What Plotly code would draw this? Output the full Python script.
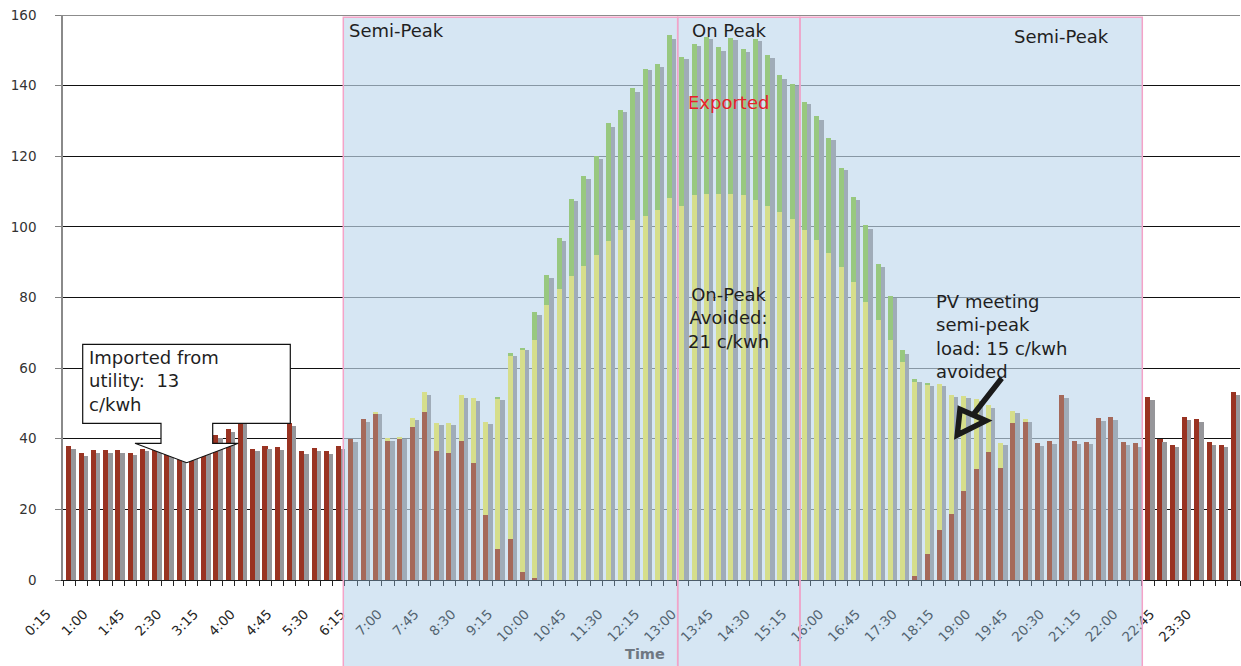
import plotly.graph_objects as go

# ---------------- data ----------------
tick_labels = ["0:15", "1:00", "1:45", "2:30", "3:15", "4:00", "4:45", "5:30",
               "6:15", "7:00", "7:45", "8:30", "9:15", "10:00", "10:45", "11:30",
               "12:15", "13:00", "13:45", "14:30", "15:15", "16:00", "16:45", "17:30",
               "18:15", "19:00", "19:45", "20:30", "21:15", "22:00", "22:45", "23:30"]

# 15-minute slots from 0:15 to 24:00
times = ["%d:%02d" % ((15 + 15 * i) // 60, (15 + 15 * i) % 60) for i in range(96)]

imported = [38.0, 36.1, 36.9, 36.9, 36.9, 36.1, 37.2, 36.9, 36.5, 36.3, 36.0, 36.5,
            41.1, 42.9, 46.0, 37.2, 38.0, 37.7, 44.5, 36.4, 37.5, 36.4, 38.0, 39.9,
            45.6, 47.2, 39.5, 40.0, 43.4, 47.5, 36.5, 36.0, 39.5, 33.1, 18.3, 8.7,
            11.7, 2.3, 0.6, 0, 0, 0, 0, 0, 0, 0, 0, 0,
            0, 0, 0, 0, 0, 0, 0, 0, 0, 0, 0, 0,
            0, 0, 0, 0, 0, 0, 0, 0, 0, 1.0, 7.5, 14.3,
            18.6, 25.1, 31.4, 36.3, 31.7, 44.6, 44.8, 38.7, 39.4, 52.3, 39.5, 39.2,
            45.8, 46.3, 39.0, 38.7, 51.9, 39.9, 38.3, 46.3, 45.7, 39.2, 38.3, 53.3]

pv_used = [0, 0, 0, 0, 0, 0, 0, 0, 0, 0, 0, 0,
           0, 0, 0, 0, 0, 0, 0, 0, 0, 0, 0, 0,
           0, 0.5, 0.8, 0.6, 2.6, 5.6, 8.1, 8.6, 12.8, 18.3, 26.5, 42.7,
           51.8, 62.7, 67.4, 78.0, 82.5, 86.0, 88.8, 92.1, 95.9, 99.0, 101.9, 103.0,
           104.9, 108.3, 106.0, 109.0, 109.4, 109.2, 109.2, 108.9, 107.7, 106.0, 104.3, 102.1,
           99.2, 96.4, 92.7, 88.5, 84.3, 78.6, 73.7, 68.1, 61.6, 55.0, 47.8, 41.2,
           33.9, 27.1, 19.8, 13.4, 7.2, 3.4, 0.9, 0, 0, 0, 0, 0,
           0, 0, 0, 0, 0, 0, 0, 0, 0, 0, 0, 0]

exported = [0, 0, 0, 0, 0, 0, 0, 0, 0, 0, 0, 0,
            0, 0, 0, 0, 0, 0, 0, 0, 0, 0, 0, 0,
            0, 0, 0, 0, 0, 0, 0, 0, 0, 0, 0, 0.3,
            0.8, 0.8, 7.8, 8.4, 14.4, 22.0, 25.7, 27.9, 33.4, 34.2, 37.3, 41.8,
            41.1, 45.9, 42.2, 42.9, 44.5, 41.6, 44.4, 41.6, 45.6, 42.8, 38.6, 38.5,
            36.3, 34.9, 32.6, 28.3, 24.2, 21.8, 15.9, 12.4, 3.4, 1.0, 0.3, 0,
            0, 0, 0, 0, 0, 0, 0, 0, 0, 0, 0, 0,
            0, 0, 0, 0, 0, 0, 0, 0, 0, 0, 0, 0]

total = [37.2, 35.2, 36.1, 36.1, 36.1, 35.5, 36.4, 36.2, 35.8, 35.6, 35.3, 35.7,
         40.3, 42.0, 45.0, 36.4, 37.2, 36.9, 43.7, 35.8, 36.6, 35.8, 37.2, 39.2,
         44.8, 46.9, 39.5, 39.9, 45.2, 52.5, 43.8, 43.8, 51.6, 50.6, 44.1, 50.9,
         63.5, 65.0, 75.0, 85.6, 96.1, 107.2, 113.7, 119.2, 128.4, 132.4, 138.3, 144.3,
         145.2, 153.3, 147.5, 151.3, 153.1, 149.9, 152.8, 149.6, 152.5, 147.9, 142.0, 139.8,
         134.8, 130.4, 124.5, 116.0, 107.7, 99.5, 88.7, 79.8, 64.1, 56.2, 54.8, 54.8,
         51.8, 51.4, 50.6, 48.8, 38.1, 47.2, 44.8, 38.0, 38.6, 51.4, 38.6, 38.5,
         45.1, 45.4, 38.2, 37.8, 51.1, 39.2, 37.8, 45.4, 44.8, 38.3, 37.8, 52.5]

assert len(imported) == len(pv_used) == len(exported) == len(total) == 96

# ---------------- styling ----------------
W, H = 1241, 666
ML, MR, MT, MB = 63, 1, 15, 86
PLOT_W = W - ML - MR
CAT_W = PLOT_W / len(times)
TXT = "#1f1f1f"
FONT = "DejaVu Sans"

# colours outside / inside the shaded tariff band (inside ones are pre-tinted so that
# after the translucent band they match the washed look of the original)
RED_OUT, RED_IN = "#993322", "rgb(173,48,0)"
GRAY_OUT, GRAY_IN = "#96969A", "rgb(165,158,157)"
YELLOW = "rgb(255,242,83)"
GREEN = "rgb(152,205,63)"
BAND = "rgba(152,192,225,0.4)"

edges_px = [343.3, 677.7, 800.0, 1142.3]
band_lo = (edges_px[0] - ML) / CAT_W - 0.5
band_hi = (edges_px[-1] - ML) / CAT_W - 0.5

RED_OFF, RED_W = -0.23, 0.41
GRAY_OFF, GRAY_W = 0.178, 0.36

x = list(range(len(times)))
tickvals = [times.index(t) for t in tick_labels]
base_green = [a + b for a, b in zip(imported, pv_used)]
red_cols = [RED_IN if band_lo < i + RED_OFF + RED_W / 2 < band_hi else RED_OUT for i in x]
gray_cols = [GRAY_IN if band_lo < i + GRAY_OFF + GRAY_W / 2 < band_hi else GRAY_OUT for i in x]


def px(v):
    return (v - ML) / PLOT_W


def py(v):
    return (H - MB - v) / (H - MT - MB)


fig = go.Figure()
fig.add_trace(go.Bar(x=x, y=imported, width=RED_W, offset=RED_OFF, marker_color=red_cols,
                     marker_line_width=0, name="Imported", hovertext=times))
fig.add_trace(go.Bar(x=x, y=pv_used, base=imported, width=RED_W, offset=RED_OFF,
                     marker_color=YELLOW, marker_line_width=0, name="PV used", hovertext=times))
fig.add_trace(go.Bar(x=x, y=exported, base=base_green, width=RED_W, offset=RED_OFF,
                     marker_color=GREEN, marker_line_width=0, name="Exported", hovertext=times))
fig.add_trace(go.Bar(x=x, y=total, width=GRAY_W, offset=GRAY_OFF, marker_color=gray_cols,
                     marker_line_width=0, name="Total", hovertext=times))

shapes = []
# soften the gridlines under the band (between gridlines and bars)
shapes.append(dict(type="rect", xref="x", yref="y", x0=band_lo, x1=band_hi, y0=0.3, y1=159.7,
                   fillcolor="rgba(255,255,255,0.45)", line=dict(width=0), layer="between"))
# top border line
shapes.append(dict(type="line", xref="paper", yref="y", x0=0, x1=1, y0=160, y1=160,
                   line=dict(color="#8c8c8c", width=2), layer="above"))
# tariff period regions (semi-transparent overlay)
for a, b in zip(edges_px[:-1], edges_px[1:]):
    shapes.append(dict(type="rect", xref="paper", yref="paper",
                       x0=px(a), x1=px(b), y0=py(H + 2), y1=py(17.3),
                       fillcolor=BAND, line=dict(color="#F4A3C8", width=1.5), layer="above"))

# callout box with down-pointing tail
pts = [(82.7, 344.3), (290.3, 344.3), (290.3, 423.3), (212.7, 423.3), (212.7, 443.3),
       (238.3, 443.3), (186.7, 462.7), (135.0, 443.3), (161.0, 443.3), (161.0, 423.3),
       (82.7, 423.3)]
path = "M " + " L ".join("%.5f,%.5f" % (px(a), py(b)) for a, b in pts) + " Z"
shapes.append(dict(type="path", xref="paper", yref="paper", path=path,
                   fillcolor="white", line=dict(color="#111", width=1.2), layer="above"))

# thick arrow with hollow triangular head
tail, basemid = (1001.7, 378.3), (973.0, 415.0)
v1, v2, apex = (960.0, 409.3), (986.0, 420.7), (957.3, 435.0)
apath = "M %.5f,%.5f L %.5f,%.5f " % (px(tail[0]), py(tail[1]), px(basemid[0]), py(basemid[1]))
apath += "M %.5f,%.5f L %.5f,%.5f L %.5f,%.5f Z" % (px(v1[0]), py(v1[1]), px(v2[0]), py(v2[1]),
                                                   px(apex[0]), py(apex[1]))
shapes.append(dict(type="path", xref="paper", yref="paper", path=apath,
                   line=dict(color="#1a1a1a", width=5.5), layer="above"))

ann = []


def add_text(text, x0, y0, xanchor="left", align="left", color=TXT, size=18, bold=False):
    ann.append(dict(text=("<b>%s</b>" % text) if bold else text, x=px(x0), y=py(y0),
                    xref="paper", yref="paper", xanchor=xanchor, yanchor="middle",
                    align=align, showarrow=False,
                    font=dict(family=FONT, size=size, color=color)))


add_text("Semi-Peak", 347, 30.5)
add_text("On Peak", 690, 30.5)
add_text("Semi-Peak", 1012, 36.5)
add_text("Exported", 686, 102.5, color="#E8202A")
add_text("On-Peak<br>Avoided:<br>21 c/kwh", 728, 318, xanchor="center", align="center")
add_text("PV meeting<br>semi-peak<br>load: 15 c/kwh<br>avoided", 934, 336)
add_text("Imported from<br>utility:  13<br>c/kwh", 87, 381)
add_text("Time", 645, 654, xanchor="center", align="center", color="#6E7782", size=14.5, bold=True)

fig.update_layout(
    width=W, height=H, autosize=False,
    margin=dict(l=ML, r=MR, t=MT, b=MB, pad=0),
    paper_bgcolor="white", plot_bgcolor="white",
    barmode="overlay", bargap=0, showlegend=False,
    font=dict(family=FONT, color=TXT),
    shapes=shapes, annotations=ann,
    xaxis=dict(range=[-0.5, 95.5], tickmode="array", tickvals=tickvals, ticktext=tick_labels,
               tickangle=-45, ticks="outside", ticklen=0, tickcolor="#222",
               ticklabelshift=-22, ticklabelstandoff=20, automargin=False,
               tickfont=dict(family=FONT, size=13.5, color="#262626"),
               showline=True, linecolor="#1a1a1a", linewidth=1,
               showgrid=False, zeroline=False,
               minor=dict(tickmode="array", tickvals=[i - 0.5 for i in range(97)],
                          ticks="outside", ticklen=5, tickcolor="#222", tickwidth=1,
                          showgrid=False)),
    yaxis=dict(range=[0, 160], tickmode="array", tickvals=list(range(0, 161, 20)),
               ticks="outside", ticklen=6, tickcolor="#808080",
               ticklabelstandoff=16, automargin=False,
               tickfont=dict(family=FONT, size=13.5, color="#333333"),
               showline=True, linecolor="#8a8a8a", linewidth=1.5,
               showgrid=True, gridcolor="#111111", gridwidth=1, zeroline=False),
)

fig.write_html("out.html",
               config={"displayModeBar": False},
               post_script="document.body.style.margin='0px';"
                           "document.body.style.padding='0px';"
                           "document.body.style.overflow='hidden';")
